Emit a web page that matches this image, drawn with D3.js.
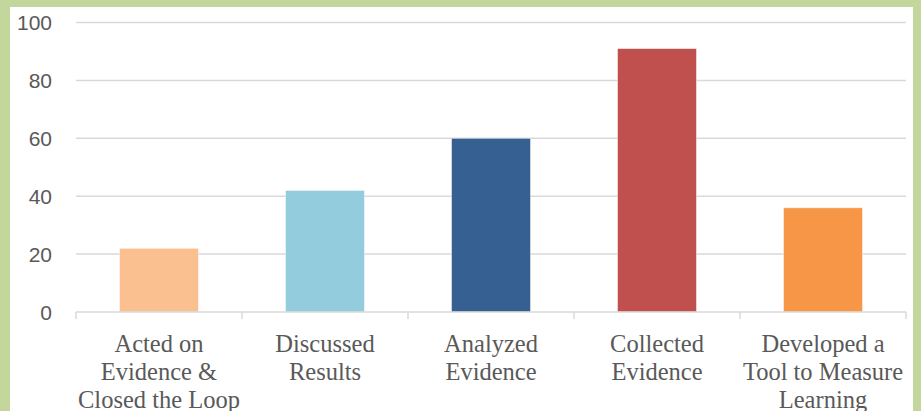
<!DOCTYPE html>
<html>
<head>
<meta charset="utf-8">
<script src="https://cdn.jsdelivr.net/npm/d3@7"></script>
<style>
html,body{margin:0;padding:0;background:#C3D69B;}
svg{display:block;}
</style>
</head>
<body>
<script>
const categories = [
  ["Acted on", "Evidence &", "Closed the Loop"],
  ["Discussed", "Results"],
  ["Analyzed", "Evidence"],
  ["Collected", "Evidence"],
  ["Developed a", "Tool to Measure", "Learning"]
];
const values = [22, 42, 60, 91, 36];
const colors = ["#FAC090", "#93CDDD", "#376092", "#C0504D", "#F79646"];
const yTicks = [0, 20, 40, 60, 80, 100];

const W = 921, H = 411;
const svg = d3.select("body").append("svg").attr("width", W).attr("height", H);
svg.append("rect").attr("width", W).attr("height", H).attr("fill", "#C3D69B");
svg.append("rect").attr("x", 10).attr("y", 7).attr("width", 903).attr("height", H - 7).attr("fill", "#fff");

const pLeft = 76, pRight = 906, pTop = 22.5, pBottom = 312;
const x = d3.scaleBand().domain(d3.range(values.length)).range([pLeft, pRight]).paddingInner(0.524).paddingOuter(0.262);
const y = d3.scaleLinear().domain([0, 100]).range([pBottom, pTop]);

// gridlines
svg.append("g").selectAll("line").data(yTicks.filter(d => d > 0)).join("line")
  .attr("x1", pLeft).attr("x2", pRight)
  .attr("y1", d => y(d)).attr("y2", d => y(d))
  .attr("stroke", "#D9D9D9").attr("stroke-width", 1.5);

// y labels
svg.append("g").selectAll("text").data(yTicks).join("text")
  .attr("x", 52).attr("y", d => y(d)).attr("dy", "0.36em")
  .attr("text-anchor", "end")
  .attr("font-family", "'Liberation Sans', Arial, sans-serif")
  .attr("font-size", 21).attr("fill", "#595959")
  .text(d => d);

// bars
svg.append("g").selectAll("rect").data(values).join("rect")
  .attr("x", (d, i) => x(i)).attr("width", x.bandwidth())
  .attr("y", d => y(d)).attr("height", d => y(0) - y(d))
  .attr("fill", (d, i) => colors[i])
  .attr("stroke", "#fff").attr("stroke-width", 0.8).attr("stroke-opacity", 0.6);

// x axis line & ticks
const ax = svg.append("g");
ax.append("line").attr("x1", pLeft).attr("x2", pRight).attr("y1", pBottom).attr("y2", pBottom)
  .attr("stroke", "#D9D9D9").attr("stroke-width", 1.5);
const step = x.step();
ax.selectAll("line.tk").data(d3.range(values.length + 1)).join("line").attr("class", "tk")
  .attr("x1", i => pLeft + i * step).attr("x2", i => pLeft + i * step)
  .attr("y1", pBottom).attr("y2", pBottom + 7)
  .attr("stroke", "#D9D9D9").attr("stroke-width", 1.5);

// x labels
const xl = svg.append("g").selectAll("text").data(categories).join("text")
  .attr("text-anchor", "middle")
  .attr("font-family", "'Liberation Serif', 'Times New Roman', serif")
  .attr("font-size", 24.5).attr("fill", "#595959");
xl.each(function(lines, i) {
  const t = d3.select(this);
  lines.forEach((ln, j) => {
    t.append("tspan").attr("x", x(i) + x.bandwidth() / 2).attr("y", 352 + j * 28).text(ln);
  });
});
</script>
</body>
</html>
